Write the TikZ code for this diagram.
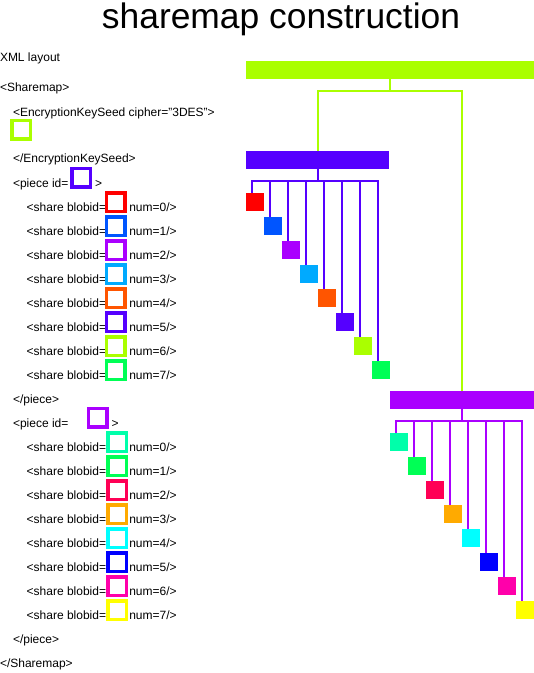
\documentclass[tikz,border=0pt]{standalone}
\usepackage{fontspec}
\setmainfont{Liberation Sans}
\definecolor{limeg}{HTML}{AAFF00}
\definecolor{violetb}{HTML}{5500FF}
\definecolor{purpleb}{HTML}{AA00FF}
\definecolor{ca0}{HTML}{FF0000}
\definecolor{ca1}{HTML}{0055FF}
\definecolor{ca2}{HTML}{AA00FF}
\definecolor{ca3}{HTML}{00AAFF}
\definecolor{ca4}{HTML}{FF5500}
\definecolor{ca5}{HTML}{5500FF}
\definecolor{ca6}{HTML}{AAFF00}
\definecolor{ca7}{HTML}{00FF55}
\definecolor{cb0}{HTML}{00FFAA}
\definecolor{cb1}{HTML}{00FF55}
\definecolor{cb2}{HTML}{FF0055}
\definecolor{cb3}{HTML}{FFAA00}
\definecolor{cb4}{HTML}{00FFFF}
\definecolor{cb5}{HTML}{0000FF}
\definecolor{cb6}{HTML}{FF00AA}
\definecolor{cb7}{HTML}{FFFF00}
\begin{document}
\begin{tikzpicture}[x=1pt,y=-1pt,
  txt/.style={anchor=base west,inner sep=0,outer sep=0,font=\fontsize{12}{14}\selectfont},
  hollow/.style={draw=#1,line width=3.5pt,minimum size=18.5pt,inner sep=0,outer sep=0},
  bar/.style={fill=#1,inner sep=0,outer sep=0},
  leaf/.style={fill=#1,minimum size=18pt,inner sep=0,outer sep=0},
  conn/.style={draw=#1,line width=2pt}]
\useasboundingbox (0,0) rectangle (534,673);
\node[anchor=base,inner sep=0,font=\fontsize{35.4}{40}\selectfont] (title) at (281,28) {sharemap construction};

% XML text
\node[txt] (xml) at (0,61) {XML layout};
\node[txt] (smo) at (0,91.3) {<Sharemap>};
\node[txt] (eks) at (13,116) {<EncryptionKeySeed cipher="3DES">};
\node[hollow=limeg] (eksq) at (21,129.5) {};
\node[txt] (eksc) at (13,162.3) {</EncryptionKeySeed>};
\node[txt] (p1o) at (13,187.6) {<piece id=};
\node[hollow=violetb] (p1sq) at (81,177.5) {};
\node[txt] (p1gt) at (95,187.6) {>};
\foreach \i in {0,...,7}{
  \node[txt] (sa\i) at (26.7,{211+24*\i}) {<share blobid=};
  \node[hollow=ca\i] (qa\i) at (115.5,{202+24*\i}) {};
  \node[txt] (na\i) at (129.3,{211+24*\i}) {num=\i/>};
}
\node[txt] (p1c) at (13,403.3) {</piece>};
\node[txt] (p2o) at (13,427) {<piece id=};
\node[hollow=purpleb] (p2sq) at (97.5,417.5) {};
\node[txt] (p2gt) at (111.7,427) {>};
\foreach \i in {0,...,7}{
  \node[txt] (sb\i) at (26.7,{451+24*\i}) {<share blobid=};
  \node[hollow=cb\i] (qb\i) at (117,{442+24*\i}) {};
  \node[txt] (nb\i) at (129.3,{451+24*\i}) {num=\i/>};
}
\node[txt] (p2c) at (13,643) {</piece>};
\node[txt] (smc) at (0,667) {</Sharemap>};

% tree
\node[bar=limeg,minimum width=288pt,minimum height=17.5pt] (b0) at (390,70) {};
\node[bar=violetb,minimum width=143pt,minimum height=17.7pt] (b1) at (317.5,160) {};
\node[bar=purpleb,minimum width=144pt,minimum height=18pt] (b2) at (462,400) {};
\draw[conn=limeg] (b0.south) -- ++(0,12) coordinate (j0) -| (b1.north);
\draw[conn=limeg] (j0) -| (b2.north);
\foreach \i in {0,...,7}{
  \node[leaf=ca\i] (ta\i) at ({255+18*\i},{202+24*\i}) {};
  \draw[conn=violetb] (b1.south) -- ++(0,12) -| ([xshift=-3pt]ta\i.north);
  \node[leaf=cb\i] (tb\i) at ({399+18*\i},{442+24*\i}) {};
  \draw[conn=purpleb] (b2.south) -- ++(0,12) -| ([xshift=-3pt]tb\i.north);
}
\end{tikzpicture}
\end{document}
